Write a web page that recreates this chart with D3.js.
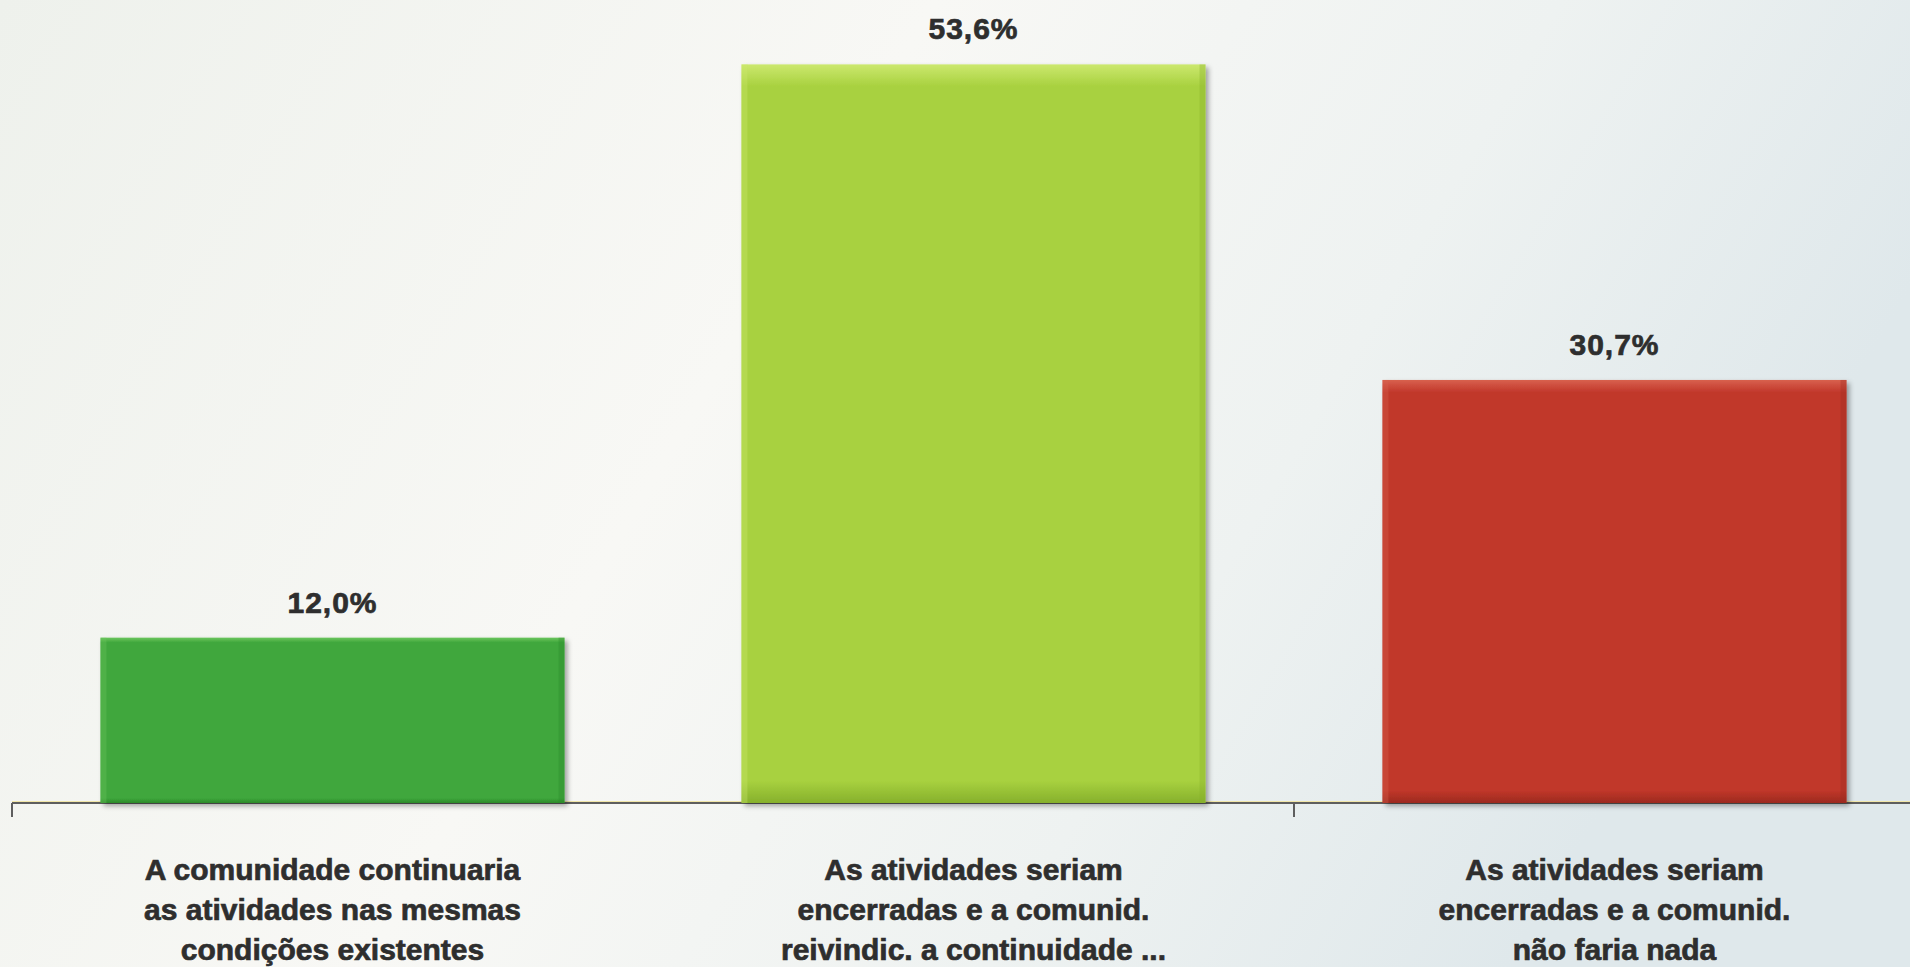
<!DOCTYPE html>
<html>
<head>
<meta charset="utf-8">
<script src="https://cdn.jsdelivr.net/npm/d3@7"></script>
<style>
  html, body { margin: 0; padding: 0; overflow: hidden; }
  svg { display: block; }
</style>
</head>
<body>
<script>
const categories = ["cat1", "cat2", "cat3"];
const categoryLines = [
  ["A comunidade continuaria", "as atividades nas mesmas", "condições existentes"],
  ["As atividades seriam", "encerradas e a comunid.", "reivindic. a continuidade ..."],
  ["As atividades seriam", "encerradas e a comunid.", "não faria nada"]
];
const values = [12.0, 53.6, 30.7];
const valueLabels = ["12,0%", "53,6%", "30,7%"];
const barColors = ["#3fa73c", "#a8d13f", "#c1372a"];
const barLight = ["#6cc65e", "#cce86e", "#d8604e"];
const barDark = ["#2c8a2a", "#86b02c", "#9c2a1f"];

const W = 1910, H = 967;
const baseY = 803;

const svg = d3.select("body").append("svg").attr("width", W).attr("height", H);
const defs = svg.append("defs");

const bg = defs.append("linearGradient").attr("id", "bg").attr("x1", 0).attr("x2", 1).attr("y1", 0).attr("y2", 0.3);
bg.append("stop").attr("offset", "0%").attr("stop-color", "#eef1ec");
bg.append("stop").attr("offset", "45%").attr("stop-color", "#f8f8f5");
bg.append("stop").attr("offset", "75%").attr("stop-color", "#eef2f1");
bg.append("stop").attr("offset", "100%").attr("stop-color", "#dfe8eb");
svg.append("rect").attr("width", W).attr("height", H).attr("fill", "url(#bg)");

const sh = defs.append("filter").attr("id", "shadow").attr("x", "-5%").attr("y", "-5%").attr("width", "115%").attr("height", "115%");
sh.append("feDropShadow").attr("dx", 3).attr("dy", 3).attr("stdDeviation", 2.5).attr("flood-color", "#000").attr("flood-opacity", 0.35);

categories.forEach((c, i) => {
  const g = defs.append("linearGradient").attr("id", "bar" + i).attr("x1", 0).attr("x2", 0).attr("y1", 0).attr("y2", 1);
  g.append("stop").attr("offset", "0%").attr("stop-color", barLight[i]);
  g.append("stop").attr("offset", "3%").attr("stop-color", barColors[i]);
  g.append("stop").attr("offset", "97%").attr("stop-color", barColors[i]);
  g.append("stop").attr("offset", "100%").attr("stop-color", barDark[i]);
});

const x = d3.scaleBand().domain(categories).range([12, 12 + 3 * 641])
  .paddingInner(0.276).paddingOuter(0.138);
const y = d3.scaleLinear().domain([0, 58]).range([baseY, baseY - 58 * 13.78]);

// axis line
svg.append("line").attr("x1", 12).attr("x2", W).attr("y1", baseY - 1.5).attr("y2", baseY - 1.5)
  .attr("stroke", "#f1e6a8").attr("stroke-width", 1);
svg.append("line").attr("x1", 12).attr("x2", W).attr("y1", baseY).attr("y2", baseY)
  .attr("stroke", "#5e5e5e").attr("stroke-width", 2.2);
// ticks (every second category boundary)
[0, 2].forEach(k => {
  const tx = 12 + k * x.step();
  svg.append("line").attr("x1", tx).attr("x2", tx).attr("y1", baseY).attr("y2", baseY + 14)
    .attr("stroke", "#5e5e5e").attr("stroke-width", 2);
});

const bars = svg.append("g").selectAll("g").data(categories).join("g");
bars.append("rect")
  .attr("x", d => x(d))
  .attr("y", (d, i) => y(values[i]))
  .attr("width", x.bandwidth())
  .attr("height", (d, i) => baseY - y(values[i]))
  .attr("fill", (d, i) => "url(#bar" + i + ")")
  .attr("filter", "url(#shadow)");
// bevel edges
bars.append("rect")
  .attr("x", d => x(d))
  .attr("y", (d, i) => y(values[i]))
  .attr("width", 6)
  .attr("height", (d, i) => baseY - y(values[i]))
  .attr("fill", (d, i) => barLight[i]).attr("opacity", 0.35);
bars.append("rect")
  .attr("x", d => x(d) + x.bandwidth() - 6)
  .attr("y", (d, i) => y(values[i]))
  .attr("width", 6)
  .attr("height", (d, i) => baseY - y(values[i]))
  .attr("fill", (d, i) => barDark[i]).attr("opacity", 0.35);

// value labels
svg.append("g").selectAll("text").data(categories).join("text")
  .attr("x", d => x(d) + x.bandwidth() / 2)
  .attr("y", (d, i) => y(values[i]) - 25)
  .attr("text-anchor", "middle")
  .attr("font-family", "Liberation Sans, Arial, sans-serif")
  .attr("font-weight", "bold")
  .attr("font-size", 30)
  .attr("letter-spacing", 1)
  .attr("fill", "#2e2e2e")
  .attr("stroke", "#2e2e2e").attr("stroke-width", 0.7)
  .text((d, i) => valueLabels[i]);

// category labels
const cl = svg.append("g").selectAll("text").data(categories).join("text")
  .attr("x", d => x(d) + x.bandwidth() / 2)
  .attr("y", 880)
  .attr("text-anchor", "middle")
  .attr("font-family", "Liberation Sans, Arial, sans-serif")
  .attr("font-weight", "bold")
  .attr("font-size", 30)
  .attr("letter-spacing", 0)
  .attr("fill", "#2e2e2e")
  .attr("stroke", "#2e2e2e").attr("stroke-width", 0.7);
cl.each(function(d, i) {
  const t = d3.select(this);
  categoryLines[i].forEach((ln, j) => {
    t.append("tspan").attr("x", x(d) + x.bandwidth() / 2).attr("y", 880 + j * 40).text(ln);
  });
});
</script>
</body>
</html>
